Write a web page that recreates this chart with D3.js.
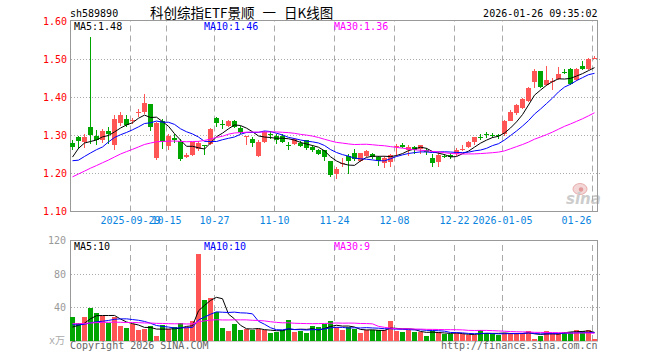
<!DOCTYPE html>
<html><head><meta charset="utf-8">
<script src="https://cdn.jsdelivr.net/npm/d3@7"></script>
<style>
html,body{margin:0;padding:0;background:#fff;}
svg{display:block;}
text{font-family:"DejaVu Sans Mono",monospace;font-size:10px;}
</style></head><body>
<svg id="c" width="660" height="360"></svg>
<script>
// ---------------- data ----------------
const symbol = "sh589890";
const title = "科创综指ETF景顺 一 日K线图";
const stamp = "2026-01-26 09:35:02";
const dates = [
"2025-09-15","2025-09-16","2025-09-17","2025-09-18","2025-09-19","2025-09-22","2025-09-23","2025-09-24","2025-09-25","2025-09-26","2025-09-29","2025-09-30",
"2025-10-09","2025-10-10","2025-10-13","2025-10-14","2025-10-15","2025-10-16","2025-10-17","2025-10-20","2025-10-21","2025-10-22","2025-10-23","2025-10-24","2025-10-27","2025-10-28","2025-10-29","2025-10-30","2025-10-31",
"2025-11-03","2025-11-04","2025-11-05","2025-11-06","2025-11-07","2025-11-10","2025-11-11","2025-11-12","2025-11-13","2025-11-14","2025-11-17","2025-11-18","2025-11-19","2025-11-20","2025-11-21","2025-11-24","2025-11-25","2025-11-26","2025-11-27","2025-11-28",
"2025-12-01","2025-12-02","2025-12-03","2025-12-04","2025-12-05","2025-12-08","2025-12-09","2025-12-10","2025-12-11","2025-12-12","2025-12-15","2025-12-16","2025-12-17","2025-12-18","2025-12-19","2025-12-22","2025-12-23","2025-12-24","2025-12-25","2025-12-26","2025-12-29","2025-12-30","2025-12-31",
"2026-01-05","2026-01-06","2026-01-07","2026-01-08","2026-01-09","2026-01-12","2026-01-13","2026-01-14","2026-01-15","2026-01-16","2026-01-19","2026-01-20","2026-01-21","2026-01-22","2026-01-23","2026-01-26"];
const open = [1.280,1.297,1.282,1.323,1.299,1.287,1.311,1.276,1.332,1.344,1.338,1.360,
1.363,1.382,1.241,1.338,1.272,1.293,1.285,1.244,1.250,1.265,1.274,1.278,1.347,1.331,1.324,1.338,1.320,
1.297,1.292,1.246,1.282,1.304,1.300,1.300,1.276,1.278,1.280,1.287,1.269,1.263,1.261,1.232,1.200,1.225,1.245,1.254,1.234,
1.247,1.252,1.243,1.227,1.230,1.270,1.275,1.261,1.269,1.265,1.262,1.240,1.230,1.247,1.249,1.252,1.263,1.269,1.284,1.297,1.303,1.301,1.301,
1.303,1.339,1.359,1.373,1.390,1.440,1.471,1.433,1.441,1.449,1.468,1.475,1.445,1.482,1.474,1.503];
const high = [1.287,1.300,1.304,1.559,1.315,1.317,1.322,1.353,1.363,1.353,1.346,1.370,
1.408,1.382,1.336,1.344,1.304,1.303,1.290,1.255,1.284,1.285,1.275,1.320,1.349,1.340,1.340,1.341,1.325,
1.300,1.295,1.287,1.313,1.311,1.303,1.304,1.282,1.294,1.285,1.289,1.274,1.265,1.262,1.234,1.217,1.240,1.252,1.265,1.254,
1.261,1.254,1.245,1.245,1.252,1.278,1.281,1.274,1.272,1.276,1.267,1.252,1.256,1.252,1.254,1.268,1.274,1.285,1.297,1.303,1.309,1.306,1.304,
1.341,1.366,1.383,1.398,1.428,1.475,1.471,1.482,1.451,1.480,1.475,1.477,1.478,1.496,1.504,1.508];
const low = [1.263,1.265,1.268,1.278,1.274,1.280,1.278,1.262,1.326,1.322,1.331,1.350,
1.357,1.311,1.236,1.265,1.263,1.280,1.234,1.240,1.247,1.260,1.250,1.274,1.322,1.318,1.322,1.320,1.305,
1.274,1.270,1.243,1.280,1.290,1.278,1.280,1.262,1.275,1.269,1.262,1.256,1.250,1.234,1.190,1.186,1.217,1.199,1.234,1.230,
1.243,1.239,1.221,1.215,1.218,1.247,1.267,1.247,1.252,1.252,1.250,1.218,1.218,1.240,1.239,1.247,1.259,1.268,1.274,1.289,1.294,1.294,1.291,
1.300,1.337,1.355,1.370,1.388,1.425,1.425,1.430,1.421,1.447,1.461,1.434,1.443,1.472,1.472,1.502];
const close = [1.270,1.285,1.297,1.302,1.287,1.311,1.303,1.344,1.353,1.328,1.340,1.362,
1.385,1.322,1.332,1.282,1.300,1.288,1.238,1.250,1.282,1.280,1.272,1.317,1.333,1.329,1.337,1.323,1.309,
1.299,1.281,1.282,1.309,1.302,1.289,1.283,1.274,1.291,1.272,1.268,1.263,1.252,1.243,1.195,1.212,1.227,1.234,1.239,1.254,
1.258,1.243,1.232,1.240,1.249,1.272,1.269,1.271,1.261,1.274,1.256,1.227,1.249,1.243,1.243,1.261,1.265,1.282,1.296,1.295,1.301,1.299,1.299,
1.339,1.361,1.381,1.395,1.425,1.469,1.427,1.445,1.443,1.462,1.466,1.436,1.475,1.475,1.502,1.505];
// volume, unit 万
const volume = [28.6,21.9,28.2,39.3,33.0,29.8,21.9,28.6,17.9,15.5,19.9,13.5,
14.3,17.5,6.0,19.5,13.9,16.3,21.1,16.3,23.4,103.3,48.5,50.9,34.6,15.1,11.5,19.9,12.7,
13.9,13.5,14.7,13.1,9.5,10.7,13.5,24.6,10.3,11.5,9.5,17.5,16.3,19.9,23.4,16.7,12.7,16.7,13.9,9.1,
13.5,13.5,13.5,13.5,23.4,11.5,10.7,13.5,10.3,11,6,12,11,8,8,9,8,7,7,13,10,8.5,7,
9.5,9.5,9.5,9,12.5,2.5,6,12,10,10,11,11,13.5,11.5,13.5,2];
// sessions before the first visible day, estimated from where the MA lines start at the left edge
const prevCloses = [1.06,1.07,1.07,1.08,1.09,1.09,1.10,1.12,1.14,1.16,1.17,1.19,1.21,1.23,
1.26,1.28,1.27,1.27,1.28,1.26,1.27,1.20,1.21,1.20,1.24,1.17,1.227,1.282,1.267];
const prevVolumes = [22,19,24,21,18,23,20,25,22,19,21,24,20,18,23,22,20,21,23,21,24,21,23,20,23.5,12,15,13,14.8];
const tickDates = ["2025-09-29","2025-10-15","2025-10-27","2025-11-10","2025-11-24","2025-12-08","2025-12-22","2026-01-05","2026-01-26"];
const tickLabels = ["2025-09-29","10-15","10-27","11-10","11-24","12-08","12-22","2026-01-05","01-26"];
const priceTicks = [1.10,1.20,1.30,1.40,1.50,1.60];
const volTicks = [40,80,120];
const maPeriods = [5,10,30];

// ---------------- drawing ----------------
const RED = "#ff5555", GREEN = "#00a600";
const maColors = ["#000000","#0000ff","#ff00ff"];
const L = 70.5, R = 597.5, PT = 20.5, PB = 211.5, VT = 240.5, VB = 341;
const svg = d3.select("#c");

const x = d3.scaleBand().domain(dates).range([69.5, 597.5]);
const yP = d3.scaleLinear().domain([1.1, 1.6]).range([211.5, 21.5]);
const yV = d3.scaleLinear().domain([0, 120]).range([341, 240.5]);
const cx = d => x(d) + 3;

function movingAvg(series, prev, n) {
  const all = prev.concat(series);
  return series.map((_, i) => d3.mean(all.slice(i + prev.length - n + 1, i + prev.length + 1)));
}

// header texts
svg.append("text").attr("x", 70).attr("y", 16.5).attr("fill", "#000").text(symbol);
svg.append("text").attr("x", 150).attr("y", 17.5).attr("fill", "#000")
  .style("font-family", '"Noto Sans CJK SC","Noto Sans",sans-serif').style("font-size", "13.5px")
  .style("word-spacing", "5px").text(title);
svg.append("text").attr("x", 597.5).attr("y", 16.5).attr("text-anchor", "end").attr("fill", "#000").text(stamp);

// watermark
const wm = svg.append("g").attr("opacity", 0.85);
wm.append("ellipse").attr("cx", 580).attr("cy", 189).attr("rx", 7).attr("ry", 5.5).attr("fill", "#f2d0d0").attr("stroke", "#e6a0a0");
wm.append("circle").attr("cx", 581).attr("cy", 189.5).attr("r", 2.2).attr("fill", "#d88");
wm.append("text").attr("x", 566).attr("y", 204).attr("fill", "#c4c4c4")
  .style("font-family", '"DejaVu Sans",sans-serif').style("font-size", "15px").style("font-weight", "bold").style("font-style", "italic").text("sina");

function panelGrid(top, bottom, yScale, hTicks) {
  const g = svg.append("g");
  g.selectAll("line.h").data(hTicks).join("line")
    .attr("x1", 71).attr("x2", 600)
    .attr("y1", d => Math.round(yScale(d) - 0.5) + 0.5).attr("y2", d => Math.round(yScale(d) - 0.5) + 0.5)
    .attr("stroke", "#aaa").attr("stroke-dasharray", "1,2");
  const ax = g.append("g").attr("transform", `translate(-2,${bottom})`)
    .call(d3.axisBottom(x).tickValues(tickDates).tickSize(-(bottom - top)).tickFormat(""));
  ax.select(".domain").remove();
  ax.selectAll(".tick line").attr("stroke", "#aaa").attr("stroke-dasharray", "6,4");
  g.append("rect").attr("x", L).attr("y", top).attr("width", R - L).attr("height", bottom - top)
    .attr("fill", "none").attr("stroke", "#999");
}

// ---- main panel ----
panelGrid(PT, PB, yP, [1.2, 1.3, 1.4, 1.5]);
const yAx = svg.append("g").attr("transform", `translate(${L - 0.5},0)`)
  .call(d3.axisLeft(yP).tickValues(priceTicks).tickSize(0).tickPadding(3).tickFormat(d3.format(".2f")));
yAx.select(".domain").remove();
yAx.selectAll("text").attr("fill", "#ff0000").style("font-family", '"DejaVu Sans Mono",monospace').style("font-size", "10px");

const xAx = svg.append("g").attr("transform", `translate(-2,${PB - 0.5})`)
  .call(d3.axisBottom(x).tickValues(tickDates).tickSize(0).tickPadding(6).tickFormat((d, i) => tickLabels[i]));
xAx.select(".domain").remove();
xAx.selectAll("text").attr("fill", "#0a84e0").style("font-family", '"DejaVu Sans Mono",monospace').style("font-size", "10px");
xAx.selectAll(".tick").filter((d, i) => i === tickDates.length - 1).select("text").attr("text-anchor", "end").attr("x", -1);

const defs = svg.append("defs");
defs.append("clipPath").attr("id", "clipP").append("rect").attr("x", 71).attr("y", 21).attr("width", 526).attr("height", 190);
defs.append("clipPath").attr("id", "clipV").append("rect").attr("x", 71).attr("y", 241).attr("width", 526).attr("height", 100);

const candles = dates.map((d, i) => ({d, o: open[i], h: high[i], l: low[i], c: close[i], v: volume[i]}));
const col = k => k.c >= k.o ? RED : GREEN;

const cg = svg.append("g");
cg.selectAll("rect.wick").data(candles).join("rect")
  .attr("x", k => cx(k.d) - 0.5).attr("width", 1)
  .attr("y", k => Math.round(yP(k.h))).attr("height", k => Math.max(1, Math.round(yP(k.l)) - Math.round(yP(k.h))))
  .attr("fill", col);
cg.selectAll("rect.body").data(candles).join("rect")
  .attr("x", k => x(k.d) + 0.5).attr("width", 5)
  .attr("y", k => Math.round(yP(Math.max(k.o, k.c))))
  .attr("height", k => Math.max(1, Math.round(yP(Math.min(k.o, k.c))) - Math.round(yP(Math.max(k.o, k.c)))))
  .attr("fill", col);

const pMA = maPeriods.map(n => movingAvg(close, prevCloses, n));
const lineP = d3.line().x((v, i) => cx(dates[i])).y(v => yP(v));
pMA.forEach((arr, j) => {
  svg.append("path").attr("d", lineP(arr)).attr("fill", "none").attr("stroke", maColors[j]).attr("stroke-width", 1)
    .attr("clip-path", "url(#clipP)");
});
const f2 = d3.format(".2f");
[74, 204, 334].forEach((lx, j) => {
  svg.append("text").attr("x", lx).attr("y", 30).attr("fill", maColors[j])
    .text(`MA${maPeriods[j]}:${f2(pMA[j][pMA[j].length - 1])}`);
});

// ---- volume panel ----
panelGrid(VT, VB, yV, [40, 80]);
const vAx = svg.append("g").attr("transform", `translate(${L - 0.5},0)`)
  .call(d3.axisLeft(yV).tickValues(volTicks).tickSize(0).tickPadding(4));
vAx.select(".domain").remove();
vAx.selectAll("text").attr("fill", "#999").style("font-family", '"DejaVu Sans Mono",monospace').style("font-size", "10px");
svg.append("text").attr("x", 49).attr("y", 344).attr("fill", "#aaa").text("x");
svg.append("text").attr("x", 55).attr("y", 344).attr("fill", "#aaa")
  .style("font-family", '"Noto Sans CJK SC",sans-serif').style("font-size", "10px").text("万");

svg.append("g").selectAll("rect").data(candles).join("rect")
  .attr("x", k => x(k.d) + 0.5).attr("width", 5)
  .attr("y", k => Math.round(yV(k.v))).attr("height", k => Math.max(1, Math.round(yV(0)) - Math.round(yV(k.v))))
  .attr("fill", col);

const vMA = maPeriods.map(n => movingAvg(volume, prevVolumes, n));
const lineV = d3.line().x((v, i) => cx(dates[i])).y(v => yV(v));
vMA.forEach((arr, j) => {
  svg.append("path").attr("d", lineV(arr)).attr("fill", "none").attr("stroke", maColors[j]).attr("stroke-width", 1)
    .attr("clip-path", "url(#clipV)");
});
const f0 = d3.format(".0f");
[74, 204, 334].forEach((lx, j) => {
  svg.append("text").attr("x", lx).attr("y", 250).attr("fill", maColors[j])
    .text(`MA${maPeriods[j]}:${f0(vMA[j][vMA[j].length - 1])}`);
});

// footer
svg.append("text").attr("x", 70).attr("y", 349).attr("fill", "#666").text("Copyright 2026 SINA.COM");
svg.append("text").attr("x", 597.5).attr("y", 349).attr("text-anchor", "end").attr("fill", "#666").text("http://finance.sina.com.cn");
</script>
</body></html>
